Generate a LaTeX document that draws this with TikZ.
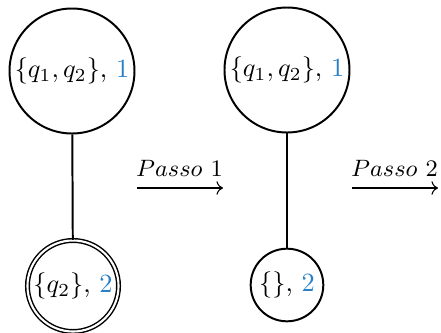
\documentclass[tikz,border=0pt]{standalone}
\usetikzlibrary{arrows.meta}
\definecolor{numblue}{RGB}{41,128,200}
\begin{document}
\begin{tikzpicture}[x=0.38pt,y=-0.38pt,
  state/.style={circle,draw,line width=0.75pt,inner sep=1pt,font=\fontsize{10}{12}\selectfont},
  bigstate/.style={state,minimum size=47.5pt},
  accstate/.style={state,double,line width=0.55pt,double distance=0.8pt,minimum size=34.6pt},
  smallstate/.style={state,minimum size=27.6pt},
  edge/.style={line width=0.75pt},
  steparrow/.style={line width=0.4pt,-{Computer Modern Rightarrow}},
  steplabel/.style={font=\fontsize{9}{11}\selectfont,inner sep=1pt,anchor=base}
]
\useasboundingbox (0,0) rectangle (441,333);
\node[bigstate] (a) at (72,71) {$\{q_1,q_2\}$, \textcolor{numblue}{1}};
\node[accstate] (b) at (73,286) {$\{q_2\}$, \textcolor{numblue}{2}};
\node[bigstate] (c) at (287,70) {$\{q_1,q_2\}$, \textcolor{numblue}{1}};
\node[smallstate] (d) at (287,285) {$\{\}$, \textcolor{numblue}{2}};
\draw[edge] (a) -- (b);
\draw[edge] (c) -- (d);
\coordinate (p1s) at (137,188);
\coordinate (p1e) at (223,188);
\coordinate (p2s) at (352,188);
\coordinate (p2e) at (438,188);
\draw[steparrow] (p1s) -- (p1e);
\draw[steparrow] (p2s) -- (p2e);
\node[steplabel] (l1) at (179.5,177) {$Passo\ 1$};
\node[steplabel] (l2) at (394.5,177) {$Passo\ 2$};
\end{tikzpicture}
\end{document}
